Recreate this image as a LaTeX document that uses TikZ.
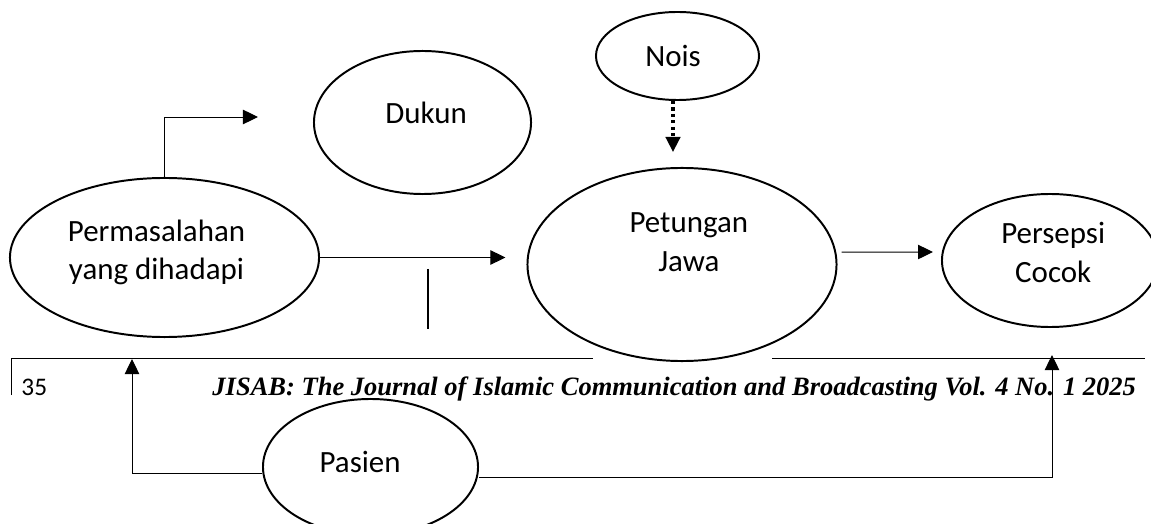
\documentclass[tikz,border=0pt]{standalone}
\usepackage{fontspec}
\setmainfont{Carlito}
\newfontfamily\journalfont{Liberation Serif}
\usetikzlibrary{shapes.geometric,arrows.meta,positioning}

\begin{document}
\begin{tikzpicture}[x=0.025cm,y=-0.025cm,>={Triangle[length=0.375cm,width=0.36cm]},line width=0.7pt,
  main node/.style={ellipse,draw,line width=1.4pt,fill=white,inner sep=0pt},
  txt/.style={font=\fontsize{22}{27.5}\selectfont,align=center,inner sep=0pt}]

            \clip (0,0) rectangle (1151,524);

            % page footer
            \draw (11,395) -- (11,358) -- (593,358);
            \draw (772,358) -- (1145,358);
            \node[anchor=base west, inner sep=0pt, font=\fontsize{18}{20}\selectfont] (nomor) at (21,395) {35};
            \node[anchor=base west, inner sep=0pt, font=\journalfont\bfseries\itshape\fontsize{18.85}{22}\selectfont] (jurnal) at (212,395) {JISAB: The Journal of Islamic Communication and Broadcasting Vol. 4 No. 1 2025};

            \node[main node, minimum width=7.725cm, minimum height=3.975cm, label={[txt,xshift=-0.2cm,yshift=0.125cm]center:Permasalahan\\yang dihadapi}] (masalah) at (164.5,257.5) {};
            \node[main node, minimum width=5.425cm, minimum height=3.575cm, label={[txt,xshift=0.09cm,yshift=0.24cm]center:Dukun}] (dukun) at (422.5,122.5) {};
            \node[main node, minimum width=4.075cm, minimum height=2.2cm, label={[txt,xshift=-0.11cm]center:Nois}] (nois) at (677.5,56) {};
            \node[main node, minimum width=7.725cm, minimum height=4.825cm, label={[txt,xshift=0.17cm,yshift=0.55cm]center:Petungan\\Jawa}] (petungan) at (682,264.5) {};
            \node[main node, minimum width=5.4cm, minimum height=3.325cm, label={[txt,xshift=0.08cm,yshift=0.2cm]center:Persepsi\\Cocok}] (persepsi) at (1050,260.5) {};
            \node[main node, minimum width=5.375cm, minimum height=3.4cm, label={[txt,xshift=-0.26cm,yshift=0.125cm]center:Pasien}] (pasien) at (370.5,467) {};

            \coordinate (k1) at (258,117);
            \coordinate (k2) at (673,152);
            \coordinate (k3) at (933,252);
            \coordinate (k4) at (428,269);
            \coordinate (k5) at (428,329);
            \coordinate (k6) at (132,359);
            \coordinate (k7) at (1052,355);

            \draw[->] (masalah.north) |- (k1);
            \draw[->, shorten >=0.525cm] (masalah.east) -- (masalah.east -| petungan.west);
            \draw[->, line width=2.2pt, dash pattern=on 2.2pt off 2.4pt] (nois.south -| k2) -- (k2);
            \draw[->] ([xshift=0.1cm,yshift=0.31cm]petungan.east) -- (k3);
            \draw[line width=1.1pt] (k4) -- (k5);
            \draw[->] ([yshift=-0.15cm]pasien.west) -| (k6);
            \draw[->] ([yshift=-0.25cm]pasien.east) -| (k7);

            ;
        \end{tikzpicture}
\end{document}
